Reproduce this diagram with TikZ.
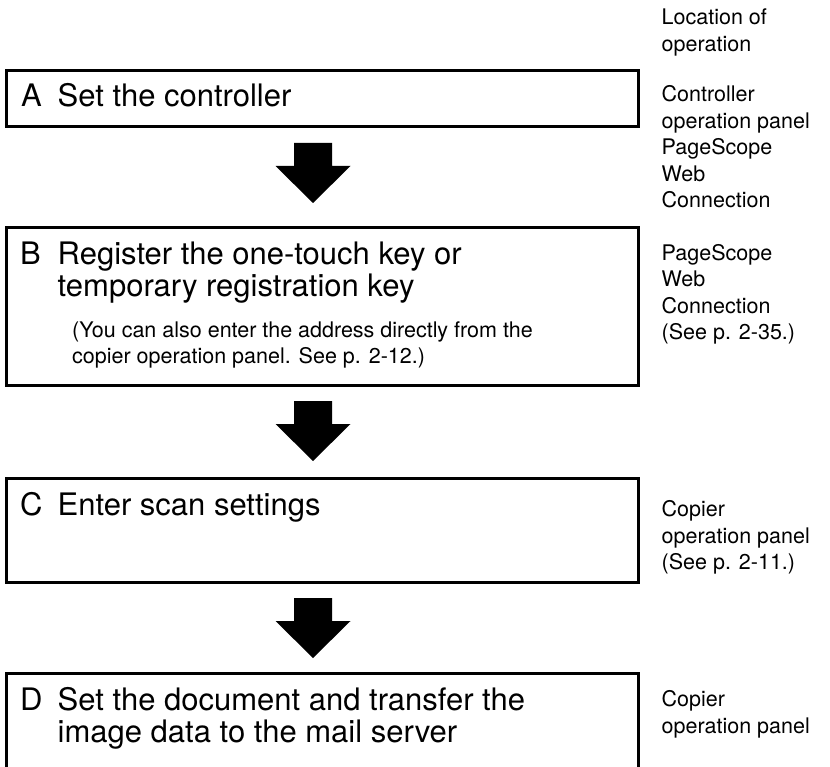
\documentclass[tikz,border=0pt]{standalone}
\usepackage{fontspec}
\setmainfont{TeX Gyre Heros}
\usetikzlibrary{positioning}

\begin{document}
\begin{tikzpicture}[
    x=1pt, y=-1pt,
    stepbox/.style={rectangle, draw=black, line width=3pt, minimum width=631.5pt, inner sep=0pt, outer sep=0pt, anchor=north west},
    steptext/.style={font=\fontsize{31}{32}\selectfont, inner sep=0pt, anchor=base west, align=left},
    notetext/.style={font=\fontsize{21.5}{26.5}\selectfont, inner sep=0pt, anchor=base west, align=left},
    flowarrow/.style={fill=black}
]
\clip (0,0) rectangle (830,767);

% Steps
\node[stepbox, minimum height=56.5pt] (boxA) at (6.5,70.5) {};
\node[stepbox, minimum height=157.5pt] (boxB) at (6.5,227.5) {};
\node[stepbox, minimum height=103.5pt] (boxC) at (6.5,478.5) {};
\node[stepbox, minimum height=120pt] (boxD) at (6.5,673) {};

% Step texts (base = last line)
\node[steptext] (letA) at (21,107) {A};
\node[steptext] (txtA) at (57.5,107) {Set the controller};
\node[steptext] (letB) at (20,265) {B};
\node[steptext] (txtB) at (57.5,297) {Register the one-touch key or\\temporary registration key};
\node[notetext] (noteB) at (72,363.5) {(You can also enter the address directly from the\\copier operation panel. See p. 2-12.)};
\node[steptext] (letC) at (20,515) {C};
\node[steptext] (txtC) at (57.5,515) {Enter scan settings};
\node[steptext] (letD) at (20,710) {D};
\node[steptext] (txtD) at (57.5,742) {Set the document and transfer the\\image data to the mail server};

% Location of operation
\node[notetext] (loc) at (661.5,51.5) {Location of\\operation};
\node[notetext] (locA) at (661.5,208) {Controller\\operation panel\\PageScope\\Web\\Connection};
\node[notetext] (locB) at (661.5,339.5) {PageScope\\Web\\Connection\\(See p. 2-35.)};
\node[notetext] (locC) at (661.5,569.5) {Copier\\operation panel\\(See p. 2-11.)};
\node[notetext] (locD) at (661.5,733) {Copier\\operation panel};

% Arrows
\foreach \a/\b/\n in {boxA/boxB/1, boxB/boxC/2, boxC/boxD/3} {
    \coordinate (arr\n) at ([yshift=-16pt]\a.south -| 313,0);
    \fill[flowarrow] (arr\n) ++(-19,0) -- ++(0,23) -- ++(-18.5,0) -- ++(37.5,37)
        -- ++(37.5,-37) -- ++(-18.5,0) -- ++(0,-23) -- cycle;
}

\end{tikzpicture}
\end{document}
